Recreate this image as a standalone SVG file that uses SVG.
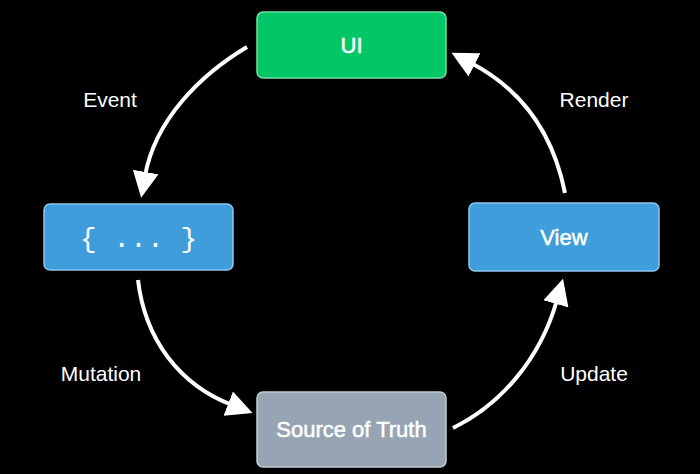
<svg xmlns="http://www.w3.org/2000/svg" width="700" height="474" viewBox="0 0 700 474">
<defs>
<style>
.box{stroke-width:1.5}
.green{fill:#03c767;stroke:#72e0a4}
.blue{fill:#3e9dda;stroke:#8cc7ee}
.gray{fill:#97a4b3;stroke:#c6cdd5}
.nt{font-family:"Liberation Sans",Arial,sans-serif;font-size:22px;fill:#fff;stroke:#fff;stroke-width:0.5;text-anchor:middle}
.mono{font-family:"Liberation Mono","DejaVu Sans Mono",monospace;font-size:28px;fill:#fff;text-anchor:middle}
.lbl{font-family:"Liberation Sans",Arial,sans-serif;font-size:21px;fill:#fff;text-anchor:middle}
.arc{fill:none;stroke:#fff;stroke-width:4;marker-end:url(#ah)}
</style>
<marker id="ah" markerUnits="userSpaceOnUse" markerWidth="28" markerHeight="28" viewBox="0 0 28 28" refX="4" refY="14" orient="auto">
<path d="M0,1 L26,14 L0,27 z" fill="#fff"/>
</marker>
</defs>
<rect width="700" height="474" fill="#000"/>
<g id="connectors">
<path class="arc" d="M247,47 C200,75 155,120 145,176"/>
<path class="arc" d="M565,193 C552,128 517,87 471,63"/>
<path class="arc" d="M138,280 C145,340 180,385 232,405"/>
<path class="arc" d="M453,428 C500,405 540,360 557,300"/>
<text class="lbl" x="110" y="107">Event</text>
<text class="lbl" x="594" y="107">Render</text>
<text class="lbl" x="101" y="381">Mutation</text>
<text class="lbl" x="594" y="381">Update</text>
</g>
<g id="ui">
<rect class="box green" x="257" y="12" width="189" height="66" rx="6"/>
<text class="nt" x="351.5" y="53">UI</text>
</g>
<g id="code">
<rect class="box blue" x="44" y="204" width="189" height="66" rx="6"/>
<text class="mono" x="138.5" y="247">{ ... }</text>
</g>
<g id="view">
<rect class="box blue" x="469" y="203" width="190" height="68" rx="6"/>
<text class="nt" x="564" y="245">View</text>
</g>
<g id="source">
<rect class="box gray" x="257" y="392" width="189" height="75" rx="6"/>
<text class="nt" x="351.5" y="437">Source of Truth</text>
</g>
</svg>
